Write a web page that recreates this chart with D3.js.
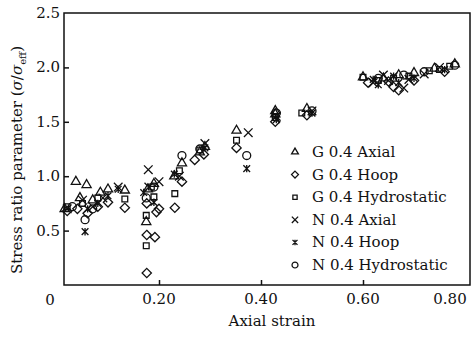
<!DOCTYPE html>
<html>
<head>
<meta charset="utf-8">
<script src="https://cdn.jsdelivr.net/npm/d3@7"></script>
<style>
  body { margin: 0; background: #fff; }
  text { font-family: "DejaVu Serif", serif; fill: #111; }
</style>
</head>
<body>
<div id="chart"></div>
<script>
// data: [axial strain, sigma/sigma_eff]
const gAxial = [[0.015, 0.70], [0.037, 0.95], [0.058, 0.92], [0.045, 0.80], [0.07, 0.78], [0.085, 0.85], [0.10, 0.88],
  [0.133, 0.87], [0.175, 0.58], [0.178, 0.88], [0.19, 0.93], [0.23, 1.00], [0.245, 1.12], [0.28, 1.22], [0.29, 1.27],
  [0.352, 1.42], [0.428, 1.57], [0.428, 1.60], [0.49, 1.62], [0.60, 1.91], [0.64, 1.90], [0.67, 1.93], [0.70, 1.95],
  [0.74, 1.99], [0.78, 2.03]];
const gHoop = [[0.02, 0.68], [0.04, 0.70], [0.06, 0.66], [0.08, 0.72], [0.10, 0.76], [0.133, 0.71], [0.176, 0.46],
  [0.192, 0.44], [0.176, 0.11], [0.195, 0.67], [0.20, 0.70], [0.176, 0.75], [0.231, 0.71], [0.245, 0.95], [0.27, 1.15],
  [0.288, 1.20], [0.352, 1.26], [0.428, 1.50], [0.49, 1.56], [0.61, 1.86], [0.66, 1.82], [0.67, 1.79], [0.70, 1.88],
  [0.76, 1.96], [0.65, 1.87]];
const gHydro = [[0.02, 0.72], [0.05, 0.75], [0.08, 0.80], [0.133, 0.79], [0.175, 0.64], [0.175, 0.36], [0.19, 0.81],
  [0.185, 0.90], [0.231, 0.84], [0.24, 1.05], [0.28, 1.24], [0.352, 1.33], [0.428, 1.54], [0.48, 1.58], [0.60, 1.91],
  [0.63, 1.88], [0.69, 1.92], [0.73, 1.97], [0.77, 2.01], [0.66, 1.90], [0.75, 1.98]];
const nAxial = [[0.02, 0.70], [0.05, 0.78], [0.07, 0.72], [0.09, 0.80], [0.12, 0.90], [0.179, 1.06], [0.18, 0.90],
  [0.20, 0.95], [0.24, 1.00], [0.29, 1.30], [0.375, 1.40], [0.43, 1.55], [0.50, 1.60], [0.62, 1.86], [0.65, 1.88],
  [0.68, 1.81], [0.72, 1.94], [0.75, 2.00], [0.64, 1.93], [0.69, 1.89]];
const nHoop = [[0.055, 0.49], [0.06, 0.70], [0.08, 0.75], [0.10, 0.82], [0.12, 0.88], [0.17, 0.85], [0.19, 0.76],
  [0.23, 1.02], [0.29, 1.26], [0.372, 1.07], [0.43, 1.52], [0.50, 1.58], [0.62, 1.89], [0.66, 1.92], [0.70, 1.90],
  [0.76, 1.98], [0.63, 1.84], [0.67, 1.86]];
const nHydro = [[0.055, 0.60], [0.03, 0.72], [0.07, 0.70], [0.175, 0.80], [0.19, 0.90], [0.245, 1.19], [0.28, 1.25],
  [0.372, 1.19], [0.43, 1.58], [0.50, 1.60], [0.63, 1.90], [0.68, 1.93], [0.72, 1.96], [0.78, 2.02]];

const seriesNames = ['G 0.4 Axial', 'G 0.4 Hoop', 'G 0.4 Hydrostatic', 'N 0.4 Axial', 'N 0.4 Hoop', 'N 0.4 Hydrostatic'];
const seriesData = [gAxial, gHoop, gHydro, nAxial, nHoop, nHydro];
const xTicks = [0.2, 0.4, 0.6, 0.8];
const yTicks = [0.5, 1.0, 1.5, 2.0, 2.5];

const width = 473, height = 337;
const frame = { left: 64, right: 470, top: 13, bottom: 285 };

const svg = d3.select('#chart').append('svg')
  .attr('width', width)
  .attr('height', height);

const x = d3.scaleLinear().domain([0, 0.8]).range([57, 465]);
const y = d3.scaleLinear().domain([0, 2.5]).range([frame.bottom, frame.top]);

// x with vertical bar (N hoop marker)
const symbolStar = {
  draw(ctx, size) {
    const r = Math.sqrt(size) / 2;
    ctx.moveTo(-r, -r); ctx.lineTo(r, r);
    ctx.moveTo(-r, r); ctx.lineTo(r, -r);
    ctx.moveTo(0, -r * 1.1); ctx.lineTo(0, r * 1.1);
  }
};
const symbols = [d3.symbolTriangle2, d3.symbolDiamond2, d3.symbolSquare2, d3.symbolTimes, symbolStar, d3.symbolCircle];
const sizes = [60, 55, 42, 50, 45, 50];

// frame
svg.append('rect')
  .attr('x', frame.left).attr('y', frame.top)
  .attr('width', frame.right - frame.left).attr('height', frame.bottom - frame.top)
  .attr('fill', 'none').attr('stroke', '#111').attr('stroke-width', 1.5);

// x axis (ticks inside)
const xAxis = d3.axisTop(x).tickValues(xTicks.slice(0, 3)).tickSize(5).tickFormat('');
svg.append('g').attr('transform', `translate(0,${frame.bottom})`).call(xAxis)
  .call(g => g.select('.domain').remove())
  .call(g => g.selectAll('line').attr('stroke', '#111').attr('stroke-width', 1.5));
svg.append('g').selectAll('text').data(xTicks).join('text')
  .attr('x', d => Math.min(x(d), 450)).attr('y', 304)
  .attr('text-anchor', 'middle').attr('font-size', 15)
  .text(d => d3.format('.2f')(d));
svg.append('text').attr('x', 50).attr('y', 305).attr('text-anchor', 'middle').attr('font-size', 15).text('0');

// y axis (ticks inside)
const yAxis = d3.axisRight(y).tickValues(yTicks.slice(0, 4)).tickSize(5).tickFormat('');
svg.append('g').attr('transform', `translate(${frame.left},0)`).call(yAxis)
  .call(g => g.select('.domain').remove())
  .call(g => g.selectAll('line').attr('stroke', '#111').attr('stroke-width', 1.5));
svg.append('g').selectAll('text').data(yTicks).join('text')
  .attr('x', 60).attr('y', d => y(d) + 5)
  .attr('text-anchor', 'end').attr('font-size', 15)
  .text(d => d3.format('.1f')(d));

// axis titles
svg.append('text').attr('x', 272).attr('y', 326).attr('text-anchor', 'middle').attr('font-size', 15).text('Axial strain');
const yl = svg.append('text')
  .attr('transform', 'translate(22,160) rotate(-90)')
  .attr('text-anchor', 'middle').attr('font-size', 15);
yl.append('tspan').text('Stress ratio parameter (');
yl.append('tspan').attr('font-style', 'italic').text('σ');
yl.append('tspan').text('/');
yl.append('tspan').attr('font-style', 'italic').text('σ');
yl.append('tspan').attr('font-size', 10).attr('dy', 4).text('eff');
yl.append('tspan').attr('dy', -4).text(')');

// points
seriesData.forEach((data, i) => {
  svg.append('g').selectAll('path').data(data).join('path')
    .attr('transform', d => `translate(${x(d[0])},${y(d[1])})`)
    .attr('d', d3.symbol(symbols[i], sizes[i]))
    .attr('fill', 'none').attr('stroke', '#111').attr('stroke-width', 1.3);
});

// legend
const legend = svg.append('g').selectAll('g').data(seriesNames).join('g')
  .attr('transform', (d, i) => `translate(295,${152 + i * 22.6})`);
legend.append('path')
  .attr('d', (d, i) => d3.symbol(symbols[i], sizes[i] * 0.55)())
  .attr('fill', 'none').attr('stroke', '#111').attr('stroke-width', 1.3);
legend.append('text').attr('x', 17).attr('y', 5).attr('font-size', 15).text(d => d);
</script>
</body>
</html>
